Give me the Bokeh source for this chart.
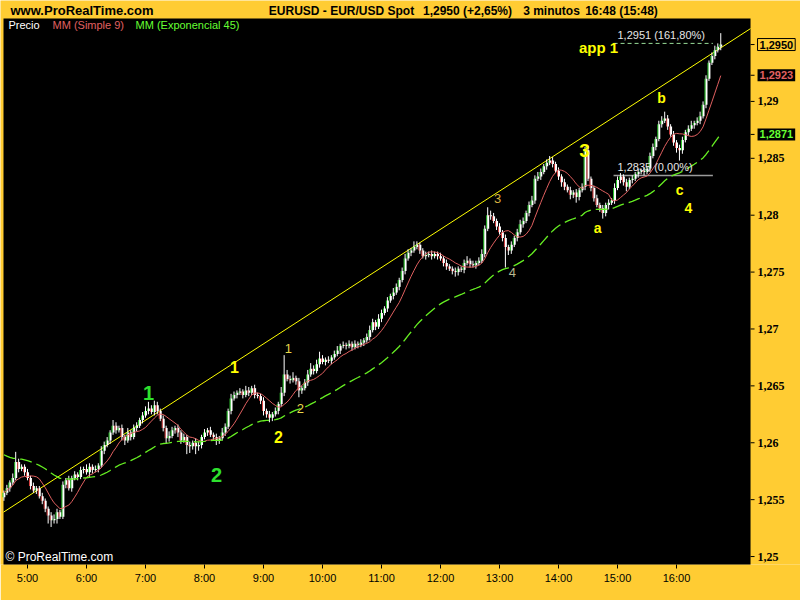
import numpy as np
import pandas as pd
from bokeh.plotting import figure
from bokeh.models import ColumnDataSource, Label, Range1d, FixedTicker, CustomJSTickFormatter
from bokeh.embed import file_html
from bokeh.resources import INLINE

# ---------------- data (EUR/USD, 3-minute bars) ----------------
start_minute = 276          # first bar 4:36
bar_minutes = 3
first_open = 1.2552
closes = [
    1.2556, 1.2560, 1.2565, 1.2569, 1.2583, 1.2577, 1.2579, 1.2574, 1.2569, 1.2562,
    1.2558, 1.2560, 1.2553, 1.2549, 1.2542, 1.2536, 1.2532, 1.2533, 1.2539, 1.2535,
    1.2563, 1.2567, 1.2560, 1.2569, 1.2572, 1.2570, 1.2576, 1.2577, 1.2574, 1.2579,
    1.2576, 1.2577, 1.2580, 1.2593, 1.2598, 1.2602, 1.2609, 1.2615, 1.2611, 1.2613,
    1.2605, 1.2602, 1.2609, 1.2605, 1.2613, 1.2615, 1.2620, 1.2624, 1.2628, 1.2630,
    1.2627, 1.2633, 1.2628, 1.2621, 1.2613, 1.2604, 1.2606, 1.2611, 1.2613, 1.2609,
    1.2602, 1.2605, 1.2598, 1.2597, 1.2600, 1.2597, 1.2598, 1.2605, 1.2609, 1.2611,
    1.2607, 1.2605, 1.2602, 1.2604, 1.2609, 1.2614, 1.2628, 1.2639, 1.2642, 1.2644,
    1.2645, 1.2642, 1.2646, 1.2644, 1.2648, 1.2642, 1.2641, 1.2637, 1.2628, 1.2625,
    1.2622, 1.2625, 1.2628, 1.2634, 1.2644, 1.2660, 1.2656, 1.2655, 1.2657, 1.2654,
    1.2646, 1.2648, 1.2653, 1.2660, 1.2665, 1.2663, 1.2669, 1.2674, 1.2671, 1.2673,
    1.2672, 1.2675, 1.2678, 1.2681, 1.2685, 1.2686, 1.2685, 1.2687, 1.2684, 1.2687,
    1.2686, 1.2688, 1.2690, 1.2693, 1.2699, 1.2706, 1.2702, 1.2709, 1.2714, 1.2718,
    1.2725, 1.2729, 1.2732, 1.2737, 1.2743, 1.2751, 1.2762, 1.2767, 1.2769, 1.2772,
    1.2774, 1.2769, 1.2764, 1.2765, 1.2766, 1.2764, 1.2766, 1.2764, 1.2762, 1.2758,
    1.2755, 1.2753, 1.2751, 1.2750, 1.2753, 1.2752, 1.2758, 1.2760, 1.2757, 1.2756,
    1.2758, 1.2760, 1.2766, 1.2788, 1.2800, 1.2799, 1.2795, 1.2790, 1.2785, 1.2780,
    1.2772, 1.2769, 1.2774, 1.2780, 1.2785, 1.2792, 1.2795, 1.2802, 1.2809, 1.2813,
    1.2832, 1.2834, 1.2838, 1.2843, 1.2846, 1.2848, 1.2845, 1.2839, 1.2834, 1.2829,
    1.2825, 1.2822, 1.2818, 1.2820, 1.2816, 1.2822, 1.2825, 1.2857, 1.2832, 1.2824,
    1.2815, 1.2809, 1.2806, 1.2802, 1.2809, 1.2811, 1.2813, 1.2824, 1.2831, 1.2834,
    1.2829, 1.2825, 1.2831, 1.2832, 1.2836, 1.2838, 1.2839, 1.2838, 1.2841, 1.2852,
    1.2860, 1.2867, 1.2880, 1.2883, 1.2885, 1.2878, 1.2871, 1.2864, 1.2859, 1.2857,
    1.2866, 1.2873, 1.2876, 1.2879, 1.2881, 1.2883, 1.2887, 1.2897, 1.2920, 1.2934,
    1.2940, 1.2945, 1.2948, 1.2950,
]
# upper / lower shadows in pips
wick_up = [
    2, 3, 2, 4, 9, 3, 2, 2, 3, 2,
    3, 2, 2, 3, 2, 2, 3, 4, 3, 2,
    3, 2, 4, 2, 3, 2, 3, 2, 4, 3,
    2, 3, 2, 4, 3, 3, 2, 5, 3, 2,
    3, 2, 4, 2, 3, 3, 2, 3, 4, 6,
    3, 4, 3, 2, 3, 2, 4, 3, 2, 3,
    2, 3, 2, 3, 2, 4, 3, 2, 3, 2,
    3, 2, 3, 2, 4, 3, 2, 4, 3, 2,
    3, 2, 4, 3, 2, 3, 2, 2, 3, 2,
    3, 2, 3, 2, 5, 17, 4, 3, 5, 2,
    3, 2, 3, 4, 5, 3, 4, 6, 3, 2,
    3, 2, 3, 4, 2, 3, 2, 3, 2, 3,
    2, 3, 2, 3, 4, 3, 2, 4, 3, 2,
    3, 2, 4, 3, 2, 3, 4, 3, 2, 5,
    3, 2, 2, 3, 2, 3, 2, 2, 3, 2,
    3, 2, 2, 3, 2, 2, 3, 4, 2, 3,
    2, 3, 4, 3, 7, 4, 3, 2, 3, 2,
    3, 2, 3, 2, 3, 4, 3, 2, 3, 4,
    3, 4, 3, 2, 3, 4, 3, 2, 3, 2,
    3, 2, 3, 2, 3, 2, 3, 3, 4, 2,
    2, 3, 2, 3, 2, 3, 2, 4, 3, 3,
    2, 3, 2, 3, 2, 3, 2, 3, 2, 3,
    3, 2, 3, 4, 6, 3, 2, 3, 2, 3,
    3, 2, 3, 4, 2, 3, 4, 3, 3, 2,
    3, 4, 3, 10,
]
wick_dn = [
    3, 2, 3, 2, 2, 3, 2, 3, 2, 3,
    2, 3, 2, 3, 3, 7, 6, 3, 4, 2,
    2, 3, 2, 3, 2, 3, 2, 3, 2, 4,
    3, 2, 3, 2, 3, 2, 3, 2, 3, 2,
    3, 4, 2, 3, 2, 3, 2, 3, 2, 3,
    2, 3, 3, 2, 3, 5, 3, 2, 3, 4,
    3, 2, 8, 6, 3, 7, 4, 3, 2, 3,
    2, 3, 4, 3, 2, 3, 2, 3, 2, 3,
    2, 3, 2, 3, 2, 3, 2, 3, 4, 3,
    4, 3, 2, 3, 2, 3, 2, 3, 2, 3,
    6, 3, 2, 3, 2, 3, 2, 3, 2, 3,
    2, 3, 2, 2, 3, 2, 3, 2, 3, 2,
    3, 2, 3, 2, 3, 2, 3, 2, 3, 2,
    3, 2, 3, 2, 3, 2, 3, 2, 3, 2,
    2, 3, 2, 3, 2, 3, 2, 3, 2, 3,
    3, 2, 3, 4, 3, 2, 3, 2, 3, 2,
    3, 2, 2, 3, 2, 3, 2, 3, 2, 3,
    18, 4, 3, 2, 3, 2, 3, 2, 3, 2,
    3, 2, 3, 2, 3, 2, 3, 2, 3, 4,
    3, 2, 4, 3, 5, 3, 2, 3, 2, 3,
    3, 2, 3, 5, 3, 4, 2, 3, 2, 3,
    3, 4, 2, 3, 2, 3, 2, 3, 2, 3,
    2, 3, 2, 3, 2, 3, 2, 3, 4, 9,
    3, 2, 3, 2, 3, 2, 3, 2, 3, 2,
    2, 3, 2, 3,
]
sma_period = 9
ema_period = 45
ema_seed = 1.2591

# axis ticks
hour_ticks = [300, 360, 420, 480, 540, 600, 660, 720, 780, 840, 900, 960]
hour_labels = ["5:00", "6:00", "7:00", "8:00", "9:00", "10:00", "11:00",
               "12:00", "13:00", "14:00", "15:00", "16:00"]
price_ticks = [1.25, 1.255, 1.26, 1.265, 1.27, 1.275, 1.28, 1.285, 1.29]
price_labels = ["1,25", "1,255", "1,26", "1,265", "1,27", "1,275", "1,28", "1,285", "1,29"]

# header / value boxes
site_text = "www.ProRealTime.com"
header_texts = ["EURUSD - EUR/USD Spot", "1,2950 (+2,65%)", "3 minutos", "16:48 (15:48)"]
last_price = 1.2950
last_price_text = "1,2950"
sma_last = 1.2923
sma_last_text = "1,2923"
ema_last = 1.2871
ema_last_text = "1,2871"

# trend line (two anchor points: time in minutes, price)
trend_t = [275.6, 1035.3]
trend_p = [1.2539, 1.2964]

# Fibonacci projection levels
fib_prices = [1.2951, 1.2835]
fib_texts = ["1,2951 (161,80%)", "1,2835 (0,00%)"]
fib_t0 = 896.0
fib_t1 = 997.0

# Elliott wave annotations
ann_text = ["1", "2", "1", "2", "1", "2", "3", "4", "3", "a", "b", "c", "4", "app 1"]
ann_t = [423.1, 492.2, 510.5, 555.3, 565.4, 577.6, 778.0, 793.2, 866.4, 879.7, 944.7, 963.1, 972.2, 880.7]
ann_p = [1.2644, 1.2572, 1.2667, 1.2605, 1.2683, 1.2630, 1.2815, 1.2750, 1.2857, 1.2789, 1.2903, 1.2822, 1.2806, 1.2947]

# ---------------- computations ----------------
n = len(closes)
t = np.array([start_minute + bar_minutes * i for i in range(n)], dtype=float)
c = np.array(closes)
o = np.concatenate([[first_open], c[:-1]])
top = np.maximum(o, c)
bot = np.minimum(o, c)
hi = top + np.array(wick_up) * 0.0001
lo = bot - np.array(wick_dn) * 0.0001
stripe_col = ["#2FD02F" if cc > oo else ("#E04848" if cc < oo else "#FFFFFF") for oo, cc in zip(o, c)]

sma = pd.Series(c).rolling(sma_period, min_periods=1).mean().to_numpy()
alpha = 2.0 / (ema_period + 1)
ema = []
e = ema_seed
for v in c:
    e = e + alpha * (v - e)
    ema.append(e)
ema = np.array(ema)

src = ColumnDataSource(dict(t=t, tb=t + 0.5, ts=t - 1.0, top=top, bot=bot, hi=hi, lo=lo,
                            col=stripe_col, sma=sma, ema=ema))

# ---------------- figure ----------------
FONT = "Liberation Sans"
W, H = 800, 600
FRAME_H = 564                      # frame = whole canvas above the time axis
XL, XR = 272.54, 1086.1            # time range across the canvas width
YB, YT = 1.2493, 1.29887           # price range across the frame height
PX_T = (XR - XL) / W               # minutes per pixel
AREA_L, AREA_R, AREA_T = 275.6, 1035.3, 1.29729   # black price panel

p = figure(width=W, height=H, output_backend="svg", toolbar_location=None,
           x_range=Range1d(XL, XR), y_range=Range1d(YB, YT),
           min_border_left=0, min_border_right=0, min_border_top=0, min_border_bottom=H - FRAME_H)
p.background_fill_color = "#FFCC33"
p.border_fill_color = "#FFCC33"
p.outline_line_color = None
p.xgrid.grid_line_color = None
p.ygrid.grid_line_color = None
p.yaxis.visible = False

fmt_code = """
let best = 0, bd = Infinity;
for (let j = 0; j < tv.length; j++) {
  const d = Math.abs(tv[j] - tick);
  if (d < bd) { bd = d; best = j; }
}
return tl[best];
"""
xa = p.xaxis[0]
xa.ticker = FixedTicker(ticks=hour_ticks)
xa.formatter = CustomJSTickFormatter(args=dict(tv=hour_ticks, tl=hour_labels), code=fmt_code)
xa.axis_line_color = None
xa.major_tick_line_color = "black"
xa.major_tick_out = 4
xa.major_tick_in = 0
xa.minor_tick_line_color = None
xa.major_label_text_font = FONT
xa.major_label_text_font_size = "11px"
xa.major_label_text_color = "black"
xa.major_label_standoff = 3

# black price panel
p.quad(left=[AREA_L], right=[AREA_R], bottom=[YB - 0.001], top=[AREA_T],
       fill_color="black", line_color=None)

# price scale on the right of the panel (ticks + labels placed by price)
mark_prices = price_ticks + [last_price, sma_last, ema_last]
p.segment(x0=[AREA_R] * len(mark_prices), y0=mark_prices,
          x1=[AREA_R + 4 * PX_T] * len(mark_prices), y1=mark_prices, color="black", line_width=1)
p.text(x=[AREA_R + 7 * PX_T] * len(price_ticks), y=price_ticks, text=price_labels,
       text_font=FONT, text_font_size="12px", text_font_style="bold", text_color="black",
       text_baseline="middle", text_align="left")

# trend line
p.line(trend_t, trend_p, color="#FFFF00", line_width=1)

# fib levels
p.segment(x0=[fib_t0], y0=[fib_prices[0]], x1=[fib_t1], y1=[fib_prices[0]],
          color="#99DD99", line_width=1, line_dash="4 3")
p.segment(x0=[fib_t0], y0=[fib_prices[1]], x1=[fib_t1], y1=[fib_prices[1]],
          color="#9A9A9A", line_width=1.5)

# candles
p.segment(x0="t", y0="lo", x1="t", y1="hi", source=src, color="white", line_width=1)
p.vbar(x="tb", width=2.0, top="top", bottom="bot", source=src, fill_color="white", line_color=None)
p.vbar(x="ts", width=1.0, top="top", bottom="bot", source=src, fill_color="col", line_color=None)

# moving averages
p.line("t", "sma", source=src, color="#E06060", line_width=1)
p.line("t", "ema", source=src, color="#66EE22", line_width=1.3, line_dash="12 5")


def lab(**kw):
    base = dict(text_font=FONT, text_baseline="middle")
    base.update(kw)
    p.add_layout(Label(**base))


# header (offsets in pixels from the canvas top-left corner)
lab(x=XL, y=YT, x_offset=10, y_offset=-10, text=site_text, text_font_size="13px",
    text_font_style="bold", text_color="black")
for txt, px in zip(header_texts, [341, 467, 551, 621]):
    lab(x=XL, y=YT, x_offset=px, y_offset=-10, text=txt, text_font_size="12px",
        text_font_style="bold", text_color="black", text_align="center")

# legend
for txt, px, col in zip(["Precio", "MM (Simple 9)", "MM (Exponencial 45)"], [8, 52, 135],
                        ["white", "#E06060", "#66FF33"]):
    lab(x=XL, y=AREA_T, x_offset=px, y_offset=-7, text=txt, text_font_size="11px", text_color=col)

# copyright
lab(x=XL, y=YB, x_offset=5, y_offset=8, text="© ProRealTime.com", text_font_size="12px",
    text_color="white")

# fib texts
for pr, txt in zip(fib_prices, fib_texts):
    lab(x=fib_t0 + 4, y=pr, y_offset=2, text=txt, text_font_size="11px", text_color="#E6E6E6",
        text_baseline="bottom")

# wave labels
ann_size = ["20px", "20px", "16px", "16px", "13px", "13px", "13px", "13px", "19px",
            "14px", "14px", "14px", "14px", "15px"]
ann_bold = [True, True, True, True, False, False, False, False, True, True, True, True, True, True]
ann_col = ["#2EE02E", "#2EE02E", "#FFFF00", "#FFFF00", "#E8D84A", "#E8D84A", "#D8B040",
           "#B8B890", "#FFFF00", "#FFFF00", "#FFFF00", "#FFFF00", "#FFFF00", "#FFFF00"]
for txt, tt, pp, sz, bd, col in zip(ann_text, ann_t, ann_p, ann_size, ann_bold, ann_col):
    lab(x=tt, y=pp, text=txt, text_font_size=sz, text_font_style="bold" if bd else "normal",
        text_color=col, text_align="center")

# value boxes on the price scale
for val, txt, bg, fg in [(last_price, last_price_text, "#FFCC33", "black"),
                         (sma_last, sma_last_text, "black", "#E06060"),
                         (ema_last, ema_last_text, "black", "#66FF33")]:
    lab(x=AREA_R, y=val, x_offset=7, text=txt, text_font_size="11px", text_font_style="bold",
        text_color=fg, background_fill_color=bg,
        border_line_color="black" if bg != "black" else None, padding=2)

open("out.html", "w").write(file_html(p, INLINE))
